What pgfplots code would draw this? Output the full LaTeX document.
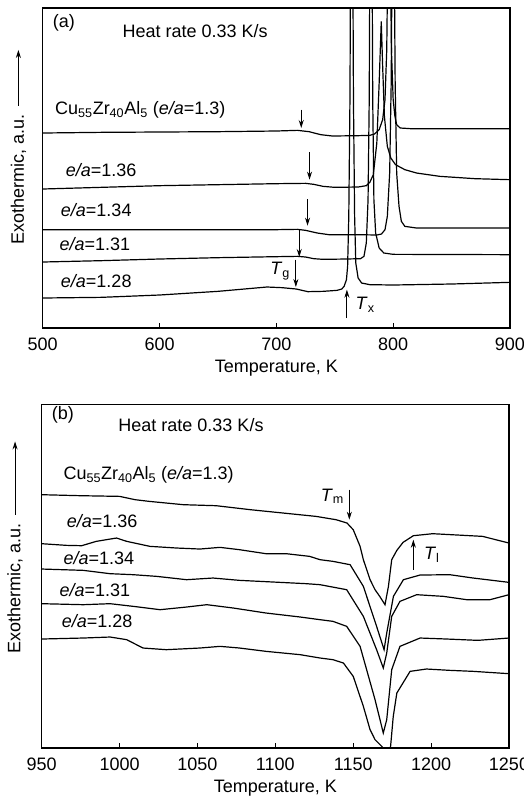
\documentclass[border=0pt]{standalone}
\usepackage{fontspec}
\setmainfont{Liberation Sans}
\usepackage{pgfplots}
\pgfplotsset{compat=1.18}
\usetikzlibrary{arrows.meta}

\newcommand{\ea}[1]{\textit{e/a}=#1}

\pgfplotsset{
  dsc/.style={
    scale only axis, width=467.3pt,
    y dir=reverse, ytick=\empty,
    tick align=inside, xtick pos=bottom, major tick length=5pt,
    axis line style={line width=1.1pt},
    every tick/.style={black, line width=1pt},
    clip mode=individual,
    font=\fontsize{18}{21}\selectfont,
    /pgf/number format/assume math mode=true,
    /pgf/number format/1000 sep={},
    xticklabel style={yshift=-6pt},
    xlabel style={at={(axis description cs:0.5,0)}, anchor=center, yshift=-40pt},
    every axis plot post/.append style={black, line width=1.2pt, mark=none},
  },
}

\begin{document}
\begin{tikzpicture}[font=\fontsize{18}{21}\selectfont,
  >={Stealth[length=8pt,width=5pt]}]
\useasboundingbox (0,0) rectangle (523pt,-804pt);

% ---------------- panel (a) ----------------
\begin{axis}[dsc, at={(42.7pt,-328pt)}, anchor=south west, height=320pt,
  xmin=500, xmax=900, ymin=25, ymax=985,
  xtick={500,600,...,900}, xlabel={Temperature, K}]
% Cu55Zr40Al5, e/a=1.3
\addplot coordinates {(500,400) (550,398) (600,397) (650,396) (700,394) (718,392) (728,396) (738,405) (748,409) (770,408) (780,407) (784,403) (788,390) (791,360) (793,300) (794.5,150) (795.3,-100) (797.7,-100) (798.5,150) (800,300) (801.5,350) (803,375) (806,385) (815,387) (900,387)};
% e/a=1.36
\addplot coordinates {(500,568) (550,563) (600,558) (650,555) (700,552) (725,551) (732,554) (740,560) (750,563) (770,562) (777,558) (780,548) (783,525) (786,430) (788,250) (789.8,65) (791,200) (792.5,350) (795,440) (798,475) (802,495) (810,510) (820,520) (840,530) (870,537) (900,540)};
% e/a=1.34
\addplot coordinates {(500,690) (600,690) (700,690) (718,689) (725,692) (735,700) (745,705) (770,705) (786,706) (790,703) (793,690) (795,650) (797,520) (798.3,250) (799,-100) (801,-100) (801.7,250) (803,520) (805,620) (807,665) (810,680) (820,685) (900,685)};
% e/a=1.31
\addplot coordinates {(500,787) (550,783) (600,778) (650,774) (700,771) (718,770) (725,772) (732,777) (740,779) (760,778) (772,777) (775,770) (777,730) (778.5,600) (779.5,300) (780,-100) (782,-100) (782.5,300) (783.5,600) (785,700) (788,745) (792,760) (800,764) (900,765)};
% e/a=1.28
\addplot coordinates {(500,895) (550,893) (600,886) (650,875) (692,862) (705,864) (717,868) (727,876) (740,875) (752,872) (756,868) (758,860) (760,840) (761,800) (762,650) (763,300) (763.5,-100) (765.5,-100) (766,300) (767,650) (768,790) (770,835) (773,850) (780,855) (800,856) (850,853) (900,848)};

\node[anchor=west] at (axis cs:505.7,70) {(a)};
\node[anchor=west] at (axis cs:565.4,95) {Heat rate 0.33 K/s};
\node[anchor=west] at (axis cs:507.7,330) {Cu\textsubscript{55}Zr\textsubscript{40}Al\textsubscript{5} (\ea{1.3})};
\node[anchor=west] at (axis cs:516.8,510) {\ea{1.36}};
\node[anchor=west] at (axis cs:512.6,630) {\ea{1.34}};
\node[anchor=west] at (axis cs:511.4,733) {\ea{1.31}};
\node[anchor=west] at (axis cs:512.6,845) {\ea{1.28}};

\draw[->, line width=0.9pt] (axis cs:721.3,330) -- (axis cs:721.3,385);
\draw[->, line width=0.9pt] (axis cs:728.4,458) -- (axis cs:728.4,540);
\draw[->, line width=0.9pt] (axis cs:726.7,598) -- (axis cs:726.7,678);
\draw[->, line width=0.9pt] (axis cs:719.6,690) -- (axis cs:719.6,772);
\draw[->, line width=0.9pt] (axis cs:716.7,780) -- (axis cs:716.7,862);
\node at (axis cs:703.3,815) {\textit{T}\textsubscript{g}};
\draw[->, line width=0.9pt] (axis cs:760.4,955) -- (axis cs:760.4,870);
\node at (axis cs:776,915) {\textit{T}\textsubscript{x}};

\node[rotate=90, anchor=west] (yla) at (axis description cs:-0.052,0.25) {Exothermic, a.u.};
\draw[->, line width=0.9pt] ([yshift=5pt]yla.east) -- (axis description cs:-0.052,0.869);
\end{axis}

% ---------------- panel (b) ----------------
\begin{axis}[dsc, at={(41.7pt,-748pt)}, anchor=south west, height=343.3pt,
  xmin=950, xmax=1250, ymin=15, ymax=1045,
  xtick={950,1000,...,1250}, xlabel={Temperature, K}]
% Cu55Zr40Al5, e/a=1.3
\addplot coordinates {(950,285) (975,288) (1000,290) (1010,300) (1019,305) (1041,315) (1062,318) (1084,330) (1105,340) (1126,350) (1139,360) (1146,370) (1150,390) (1154.4,440) (1156.5,480) (1160.8,540) (1164,570) (1167,590) (1170.4,615) (1172.6,560) (1174.7,480) (1178,452) (1182,428) (1188.6,408) (1201,402) (1233,410) (1250,430)};
% e/a=1.36
\addplot coordinates {(950,432) (966,437) (975.7,438) (985,425) (998,415) (1004.6,425) (1019.5,440) (1036.7,445) (1051.6,448) (1064.5,443) (1077,450) (1094,462) (1107,462) (1122,470) (1128.7,480) (1137,485) (1148,495) (1156.5,560) (1165,680) (1169.8,750) (1171.5,700) (1175.8,590) (1182.2,540) (1192.9,526) (1212,525) (1227,535) (1250,548)};
% e/a=1.34
\addplot coordinates {(950,508) (976.7,512) (993.9,522) (1008.8,525) (1023.8,530) (1043,540) (1060,535) (1077,542) (1098.7,547) (1120,552) (1128.7,555) (1145.8,570) (1156.5,650) (1165,750) (1169.3,805) (1171.5,760) (1174.7,650) (1180,605) (1190.7,585) (1207.9,590) (1222.8,600) (1237.8,600) (1250,585)};
% e/a=1.31
\addplot coordinates {(950,612) (976.7,615) (993.9,612) (1008.8,620) (1026,630) (1043,622) (1056,615) (1073,625) (1094,640) (1116,652) (1128.7,660) (1137,665) (1145.8,680) (1154.4,740) (1164,900) (1169.3,1000) (1171.5,960) (1174.7,810) (1180,740) (1192.9,715) (1210,718) (1230,722) (1250,715)};
% e/a=1.28
\addplot coordinates {(950,718) (976.7,715) (993.9,712) (1004.6,720) (1015,745) (1030,750) (1051.6,745) (1064.5,740) (1077,745) (1094,755) (1116,765) (1128.7,775) (1137,780) (1143.7,790) (1150,830) (1156.5,920) (1160.8,990) (1164,1020) (1168.3,1040) (1171.5,1060) (1173.6,1060) (1175.7,950) (1178,880) (1186.5,815) (1197,808) (1212,812) (1227,815) (1250,822)};

\node[anchor=west] at (axis cs:954.3,45) {(b)};
\node[anchor=west] at (axis cs:997,75) {Heat rate 0.33 K/s};
\node[anchor=west] at (axis cs:961.8,225) {Cu\textsubscript{55}Zr\textsubscript{40}Al\textsubscript{5} (\ea{1.3})};
\node[anchor=west] at (axis cs:963.9,365) {\ea{1.36}};
\node[anchor=west] at (axis cs:961.8,475) {\ea{1.34}};
\node[anchor=west] at (axis cs:959.2,570) {\ea{1.31}};
\node[anchor=west] at (axis cs:960.7,665) {\ea{1.28}};

\draw[->, line width=0.9pt] (axis cs:1147.5,270) -- (axis cs:1147.5,360);
\node at (axis cs:1136.6,290) {\textit{T}\textsubscript{m}};
\draw[->, line width=0.9pt] (axis cs:1188.6,510) -- (axis cs:1188.6,420);
\node at (axis cs:1200.4,465) {\textit{T}\textsubscript{l}};

\node[rotate=90, anchor=west] (ylb) at (axis description cs:-0.057,0.266) {Exothermic, a.u.};
\draw[->, line width=0.9pt] ([yshift=5pt]ylb.east) -- (axis description cs:-0.057,0.893);
\end{axis}
\end{tikzpicture}
\end{document}
